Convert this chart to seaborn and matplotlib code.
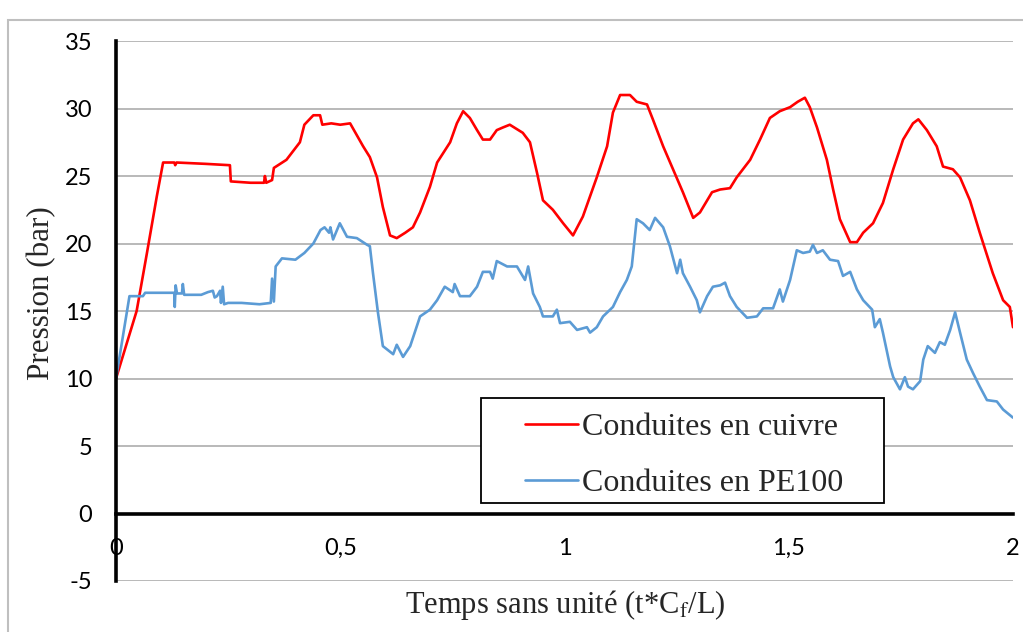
import matplotlib
matplotlib.use("Agg")
import matplotlib.pyplot as plt
import matplotlib.patches as patches
import numpy as np
import pandas as pd
import seaborn as sns

# values
red_x = [0, 0.046, 0.069, 0.091, 0.105, 0.13, 0.132, 0.135, 0.2, 0.254, 0.256, 0.30,
         0.33, 0.332, 0.335, 0.348, 0.352, 0.38, 0.41, 0.42, 0.44, 0.455, 0.46, 0.48,
         0.50, 0.522, 0.551, 0.566, 0.582, 0.595, 0.611, 0.626, 0.645, 0.662, 0.678,
         0.70, 0.716, 0.745, 0.76, 0.774, 0.789, 0.805, 0.818, 0.834, 0.849, 0.863,
         0.878, 0.907, 0.923, 0.939, 0.952, 0.974, 0.997, 1.019, 1.041, 1.072, 1.095,
         1.108, 1.124, 1.146, 1.161, 1.184, 1.197, 1.22, 1.242, 1.264, 1.287, 1.302,
         1.329, 1.347, 1.369, 1.384, 1.414, 1.436, 1.458, 1.48, 1.503, 1.52, 1.536,
         1.547, 1.563, 1.585, 1.599, 1.614, 1.637, 1.652, 1.666, 1.688, 1.71, 1.733,
         1.755, 1.777, 1.789, 1.808, 1.83, 1.844, 1.866, 1.882, 1.904, 1.926, 1.955,
         1.978, 1.993, 2.0]
red_y = [10, 15, 19.3, 23.5, 26.0, 26.0, 25.8, 26.0, 25.9, 25.8, 24.6, 24.5,
         24.5, 25.0, 24.5, 24.7, 25.6, 26.2, 27.5, 28.8, 29.5, 29.5, 28.8, 28.9,
         28.8, 28.9, 27.2, 26.4, 24.9, 22.7, 20.6, 20.4, 20.8, 21.2, 22.3,
         24.2, 26.0, 27.5, 28.9, 29.8, 29.3, 28.4, 27.7, 27.7, 28.4, 28.6,
         28.8, 28.2, 27.5, 25.2, 23.2, 22.5, 21.5, 20.6, 22.0, 24.9, 27.2,
         29.7, 31.0, 31.0, 30.5, 30.3, 29.2, 27.2, 25.5, 23.8, 21.9, 22.3,
         23.8, 24.0, 24.1, 24.9, 26.2, 27.7, 29.3, 29.8, 30.1, 30.5, 30.8,
         30.1, 28.6, 26.2, 24.0, 21.8, 20.1, 20.1, 20.8, 21.5, 23.0, 25.5,
         27.7, 28.9, 29.2, 28.4, 27.2, 25.7, 25.5, 24.9, 23.2, 20.8, 17.8,
         15.8, 15.3, 13.8]

blue_x = [0, 0.03, 0.06, 0.065, 0.13, 0.131, 0.133, 0.136, 0.147, 0.149, 0.152, 0.19,
          0.205, 0.216, 0.22, 0.225, 0.232, 0.234, 0.238, 0.241, 0.25, 0.28, 0.32,
          0.345, 0.348, 0.352, 0.356, 0.37, 0.40, 0.42, 0.44, 0.456, 0.465, 0.475,
          0.478, 0.484, 0.499, 0.515, 0.537, 0.56, 0.566, 0.573, 0.584, 0.595, 0.618,
          0.626, 0.64, 0.656, 0.678, 0.70, 0.716, 0.733, 0.751, 0.755, 0.767, 0.789,
          0.805, 0.818, 0.834, 0.84, 0.849, 0.872, 0.894, 0.912, 0.919, 0.93, 0.945,
          0.952, 0.974, 0.983, 0.99, 1.012, 1.028, 1.05, 1.057, 1.072, 1.086, 1.108,
          1.124, 1.139, 1.15, 1.161, 1.175, 1.19, 1.202, 1.22, 1.235, 1.251, 1.258,
          1.264, 1.28, 1.295, 1.302, 1.318, 1.331, 1.347, 1.358, 1.369, 1.384, 1.407,
          1.429, 1.443, 1.465, 1.48, 1.487, 1.503, 1.518, 1.532, 1.547, 1.554, 1.563,
          1.576, 1.592, 1.61, 1.621, 1.637, 1.652, 1.666, 1.686, 1.692, 1.703, 1.71,
          1.726, 1.733, 1.748, 1.759, 1.766, 1.777, 1.793, 1.8, 1.81, 1.826, 1.837,
          1.848, 1.86, 1.871, 1.882, 1.897, 1.911, 1.926, 1.942, 1.964, 1.978, 2.0]
blue_y = [10, 16.1, 16.1, 16.35, 16.35, 15.3, 16.9, 16.3, 16.3, 17.0, 16.2, 16.2,
          16.4, 16.5, 16.0, 16.1, 16.5, 15.6, 16.8, 15.5, 15.6, 15.6, 15.5,
          15.6, 17.4, 15.7, 18.3, 18.9, 18.8, 19.3, 20.0, 21.0, 21.2, 20.8,
          21.2, 20.3, 21.5, 20.5, 20.4, 19.9, 19.8, 17.8, 14.9, 12.4, 11.8,
          12.5, 11.6, 12.4, 14.6, 15.1, 15.8, 16.8, 16.4, 17.0, 16.1, 16.1,
          16.8, 17.9, 17.9, 17.4, 18.7, 18.3, 18.3, 17.3, 18.3, 16.3, 15.3,
          14.6, 14.6, 15.1, 14.1, 14.2, 13.6, 13.8, 13.4, 13.8, 14.6, 15.3,
          16.4, 17.3, 18.3, 21.8, 21.5, 21.0, 21.9, 21.2, 19.8, 17.8, 18.8,
          17.8, 16.8, 15.8, 14.9, 16.1, 16.8, 16.9, 17.1, 16.1, 15.3, 14.5,
          14.6, 15.2, 15.2, 16.6, 15.7, 17.3, 19.5, 19.3, 19.4, 19.9, 19.3,
          19.5, 18.8, 18.7, 17.6, 17.9, 16.6, 15.8, 15.1, 13.8, 14.4, 13.4,
          10.9, 10.1, 9.2, 10.1, 9.4, 9.2, 9.8, 11.4, 12.4, 11.9, 12.7,
          12.5, 13.6, 14.9, 13.4, 11.4, 10.4, 9.4, 8.4, 8.3, 7.7, 7.1]

series_names = ["Conduites en cuivre", "Conduites en PE100"]
series_colors = ["#FF0000", "#5B9BD5"]
x_ticks = [0, 0.5, 1, 1.5, 2]
x_tick_labels = ["0", "0,5", "1", "1,5", "2"]
y_ticks = [-5, 0, 5, 10, 15, 20, 25, 30, 35]

df = pd.concat([
    pd.DataFrame({"t": red_x, "p": red_y, "serie": series_names[0]}),
    pd.DataFrame({"t": blue_x, "p": blue_y, "serie": series_names[1]}),
])

sns.set_style("white")
plt.rcParams["font.family"] = ["Lato", "DejaVu Sans"]
plt.rcParams["mathtext.fontset"] = "stix"
serif = "Liberation Serif"

fig = plt.figure(figsize=(10.23, 6.32), dpi=100)
ax = fig.add_axes([0.1134, 0.0807, 0.8768, 0.8544])

sns.lineplot(data=df, x="t", y="p", hue="serie", palette=series_colors,
             estimator=None, sort=False, linewidth=1.9, ax=ax)

# spine position first: it resets the tick objects
for s in ["top", "right"]:
    ax.spines[s].set_visible(False)
ax.spines["bottom"].set_position(("data", 0))
for s in ["left", "bottom"]:
    ax.spines[s].set_linewidth(2.6)
    ax.spines[s].set_color("black")
    ax.spines[s].set_zorder(3)

ax.set_xlim(0, 2)
ax.set_ylim(-5, 35)
ax.set_yticks(y_ticks)
ax.set_yticklabels([str(v) for v in y_ticks])
ax.set_xticks(x_ticks)
ax.set_xticklabels(x_tick_labels)
ax.tick_params(axis="y", direction="out", length=5, width=2.6, pad=12,
               colors="black", labelsize=17)
ax.tick_params(axis="x", direction="out", length=5, width=2.6, pad=12.5,
               colors="black", labelsize=17)

ax.yaxis.grid(True, color="#A6A6A6", linewidth=1.1)
ax.set_axisbelow(True)

ax.set_xlabel("")
ax.set_ylabel("")
fig.text(0.553, 0.043, "Temps sans unité (t*C$_{\\mathrm{f}}$/L)", fontfamily=serif,
         fontsize=22, ha="center", va="center")
fig.text(0.041, 0.5356, "Pression (bar)", fontfamily=serif, fontsize=22.4,
         rotation=90, ha="center", va="center")

leg = ax.legend(loc="upper left", bbox_to_anchor=(0.456, 0.311),
                prop={"family": serif, "size": 23}, frameon=False,
                handlelength=1.66, handletextpad=0.12,
                borderpad=0, labelspacing=0.83, borderaxespad=0)
for line in leg.get_lines():
    line.set_linewidth(1.9)

# legend box drawn on its own, wider than the legend's padding allows
ax.add_patch(patches.Rectangle((0.407, 0.144), 0.449, 0.195, transform=ax.transAxes,
                               fill=True, facecolor="white", edgecolor="black",
                               linewidth=1.3, zorder=4, clip_on=False))
leg.set_zorder(5)

# outer chart border, cut by the image edges on the right and bottom
fig.patches.append(patches.Rectangle((8 / 1023, -0.1), 1.2, 1.084 - 10 / 632,
                                     transform=fig.transFigure, fill=False,
                                     edgecolor="#BFBFBF", linewidth=1.5))

fig.savefig("out.png", dpi=100)
